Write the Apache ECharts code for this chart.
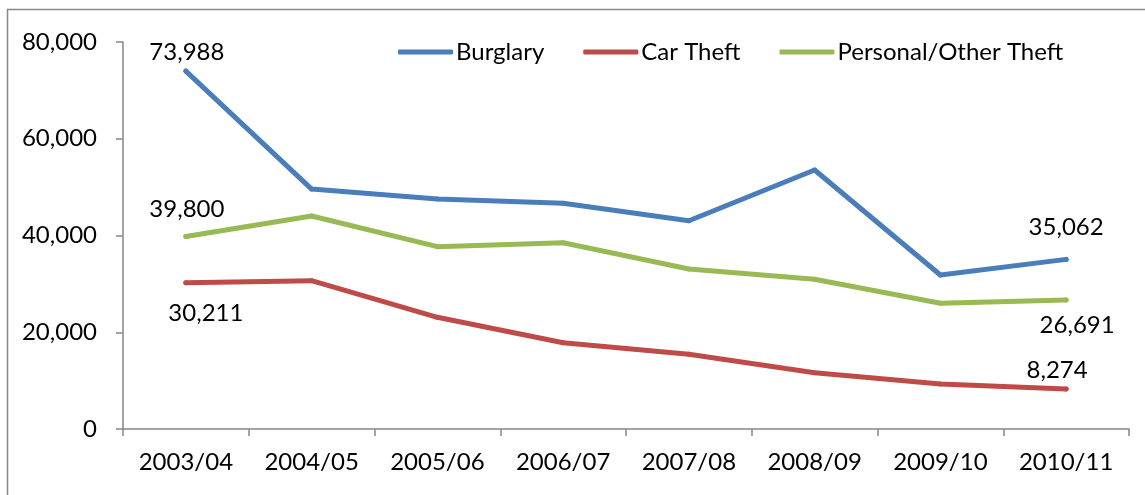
<!DOCTYPE html>
<html>
<head>
<meta charset="utf-8">
<script src="https://cdn.jsdelivr.net/npm/echarts@6/dist/echarts.min.js"></script>
<style>
html,body{margin:0;padding:0;background:#fff;}
#chart{width:1145px;height:495px;}
</style>
</head>
<body>
<div id="chart"></div>
<script>
const categories = ['2003/04','2004/05','2005/06','2006/07','2007/08','2008/09','2009/10','2010/11'];
const burglary = [73988, 49600, 47550, 46650, 43060, 53540, 31840, 35062];
const carTheft = [30211, 30660, 23090, 17840, 15440, 11640, 9300, 8274];
const personalTheft = [39800, 44030, 37690, 38510, 33080, 30940, 25980, 26691];
const yTicks = [0, 20000, 40000, 60000, 80000];

const FONT = 'Lato';
const FS = 24;
const fmt = v => v.toLocaleString('en-US');

// which points carry a value label, and where (offset from point, px)
const labelSpec = {
  'Burglary': {0: [1, -19], 7: [0, -32]},
  'Car Theft': {0: [20, 30], 7: [-9, -19]},
  'Personal/Other Theft': {0: [1, -27], 7: [11, 25]}
};

function buildData(name, values) {
  return values.map((v, i) => {
    const spec = labelSpec[name][i];
    if (!spec) return v;
    return {
      value: v,
      label: {
        show: true,
        position: 'inside',
        offset: spec,
        formatter: p => fmt(p.value),
        color: '#000',
        fontFamily: FONT,
        fontSize: FS
      }
    };
  });
}

const colors = {'Burglary': '#4A7EBB', 'Car Theft': '#BE4B48', 'Personal/Other Theft': '#98B954'};

function series(name, values) {
  return {
    name: name,
    type: 'line',
    data: buildData(name, values),
    symbol: 'circle',
    symbolSize: 5,
    showSymbol: true,
    lineStyle: {width: 5, color: colors[name], cap: 'round', join: 'round'},
    itemStyle: {color: colors[name], borderWidth: 0},
    emphasis: {disabled: true},
    z: 2
  };
}

const chart = echarts.init(document.getElementById('chart'), null, {renderer: 'canvas'});
chart.setOption({
  animation: false,
  backgroundColor: '#fff',
  textStyle: {fontFamily: FONT},
  graphic: [{
    type: 'rect',
    shape: {x: 7.5, y: 9.5, width: 1300, height: 700},
    style: {fill: 'none', stroke: '#898989', lineWidth: 1.5},
    silent: true
  }],
  legend: {
    left: 398,
    top: 40,
    padding: 0,
    itemWidth: 55,
    itemHeight: 5,
    itemGap: 39,
    icon: 'roundRect',
    textStyle: {fontFamily: FONT, fontSize: FS, color: '#000', padding: [0, 0, 0, -2]},
    data: ['Burglary', 'Car Theft', 'Personal/Other Theft']
  },
  grid: {left: 123, right: 16, top: 42, bottom: 66, containLabel: false},
  xAxis: {
    type: 'category',
    data: categories,
    boundaryGap: true,
    axisLine: {lineStyle: {color: '#868686', width: 1.5}},
    axisTick: {show: true, length: 7, inside: false, lineStyle: {color: '#868686', width: 1.5}},
    axisLabel: {color: '#000', fontFamily: FONT, fontSize: FS, margin: 21}
  },
  yAxis: {
    type: 'value',
    min: yTicks[0],
    max: yTicks[yTicks.length - 1],
    interval: yTicks[1] - yTicks[0],
    splitLine: {show: false},
    axisLine: {show: true, lineStyle: {color: '#868686', width: 1.5}},
    axisTick: {show: true, length: 7, lineStyle: {color: '#868686', width: 1.5}},
    axisLabel: {color: '#000', fontFamily: FONT, fontSize: FS, margin: 26, formatter: v => fmt(v)}
  },
  series: [
    series('Burglary', burglary),
    series('Car Theft', carTheft),
    series('Personal/Other Theft', personalTheft)
  ]
});
</script>
</body>
</html>
